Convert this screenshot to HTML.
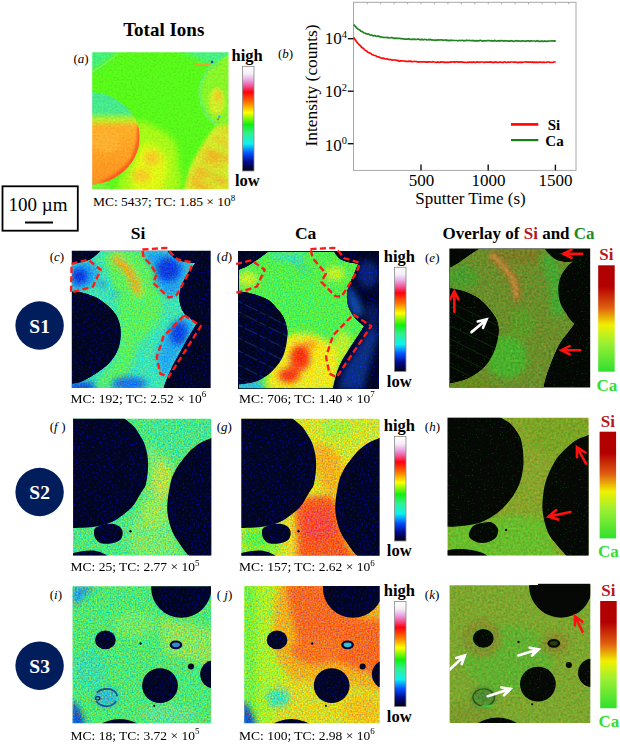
<!DOCTYPE html><html><head><meta charset="utf-8"><style>html,body{margin:0;padding:0;background:#fff}svg{display:block}text{font-family:"Liberation Serif", serif}</style></head><body>
<svg width="620" height="745" viewBox="0 0 620 745">
<defs>
<linearGradient id="jet" x1="0" y1="0" x2="0" y2="1">
<stop offset="0" stop-color="#ffffff"/><stop offset="0.07" stop-color="#f6eef6"/>
<stop offset="0.13" stop-color="#e8a6e4"/><stop offset="0.19" stop-color="#f0508c"/>
<stop offset="0.245" stop-color="#ff0010"/><stop offset="0.34" stop-color="#ff7000"/>
<stop offset="0.44" stop-color="#ffff00"/><stop offset="0.555" stop-color="#10f010"/>
<stop offset="0.64" stop-color="#30f090"/><stop offset="0.74" stop-color="#10f0f0"/>
<stop offset="0.83" stop-color="#0050ff"/><stop offset="0.91" stop-color="#000c90"/>
<stop offset="1" stop-color="#000010"/></linearGradient>
<linearGradient id="ov" x1="0" y1="0" x2="0" y2="1">
<stop offset="0" stop-color="#b00000"/><stop offset="0.2" stop-color="#b40000"/>
<stop offset="0.4" stop-color="#e06010"/><stop offset="0.56" stop-color="#f0f000"/>
<stop offset="0.72" stop-color="#a0f030"/><stop offset="1" stop-color="#30e030"/></linearGradient>
<filter id="nz" x="0" y="0" width="1" height="1" color-interpolation-filters="sRGB">
<feTurbulence type="fractalNoise" baseFrequency="0.15" numOctaves="1" seed="7" result="t0"/>
<feColorMatrix in="t0" type="matrix" values="1 0 0 0 0  0 0.6 0 0 0.2  -1 0 0 0 1  0 0 0 0 1" result="t"/>
<feComposite in="SourceGraphic" in2="t" operator="arithmetic" k1="0" k2="1" k3="1.1" k4="-0.55" result="r"/>
<feComposite in="r" in2="SourceAlpha" operator="in"/>
</filter>
<filter id="nzL" x="0" y="0" width="1" height="1" color-interpolation-filters="sRGB">
<feTurbulence type="fractalNoise" baseFrequency="0.15" numOctaves="1" seed="9" result="t0"/>
<feColorMatrix in="t0" type="matrix" values="1 0 0 0 0  0 0.6 0 0 0.2  -1 0 0 0 1  0 0 0 0 1" result="t"/>
<feComposite in="SourceGraphic" in2="t" operator="arithmetic" k1="0" k2="1" k3="0.7" k4="-0.35" result="r"/>
<feComposite in="r" in2="SourceAlpha" operator="in"/>
</filter>
<filter id="nzD" x="0" y="0" width="1" height="1" color-interpolation-filters="sRGB">
<feTurbulence type="fractalNoise" baseFrequency="0.11" numOctaves="2" seed="11" result="t"/>
<feColorMatrix in="t" type="matrix" values="0 0 0 0 0  0 0.5 0 0 0  0 0 1 0 0  0 0 0 0 1" result="t2"/>
<feComponentTransfer in="t2" result="t3"><feFuncG type="linear" slope="3" intercept="-1.1"/><feFuncB type="linear" slope="2.6" intercept="-1.38"/></feComponentTransfer>
<feComposite in="SourceGraphic" in2="t3" operator="arithmetic" k1="0" k2="1" k3="0.6" k4="0" result="r"/>
<feComposite in="r" in2="SourceAlpha" operator="in"/>
</filter>
<filter id="nz2" x="0" y="0" width="1" height="1" color-interpolation-filters="sRGB">
<feTurbulence type="fractalNoise" baseFrequency="0.1" numOctaves="2" seed="5" result="t"/>
<feColorMatrix in="t" type="matrix" values="1 0 0 0 0  0 0.7 0 0 0.15  0 0 0.2 0 0.4  0 0 0 0 1" result="t2"/>
<feComposite in="SourceGraphic" in2="t2" operator="arithmetic" k1="0" k2="1" k3="0.4" k4="-0.2" result="r"/>
<feComposite in="r" in2="SourceAlpha" operator="in"/>
</filter>
<filter id="nzG" x="0" y="0" width="1" height="1" color-interpolation-filters="sRGB">
<feTurbulence type="fractalNoise" baseFrequency="0.12" numOctaves="2" seed="13" result="t"/>
<feColorMatrix in="t" type="matrix" values="0 0 0 0 0  0 1 0 0 0  0 0 0 0 0  0 0 0 0 1" result="t2"/>
<feComponentTransfer in="t2" result="t3"><feFuncG type="linear" slope="1.6" intercept="-1.0"/></feComponentTransfer>
<feComposite in="SourceGraphic" in2="t3" operator="arithmetic" k1="0" k2="1" k3="0.6" k4="0" result="r"/>
<feComposite in="r" in2="SourceAlpha" operator="in"/>
</filter>
<filter id="nzA" x="0" y="0" width="1" height="1" color-interpolation-filters="sRGB">
<feTurbulence type="fractalNoise" baseFrequency="0.12" numOctaves="1" seed="3" result="t0"/>
<feColorMatrix in="t0" type="matrix" values="1 0 0 0 0  0 1 0 0 0  0 0 1 0 0  0 0 0 0 1" result="t"/>
<feComposite in="SourceGraphic" in2="t" operator="arithmetic" k1="0.3" k2="0.85" k3="0" k4="0" result="r"/>
<feComposite in="r" in2="SourceAlpha" operator="in"/>
</filter>
<filter id="bl" color-interpolation-filters="sRGB"><feGaussianBlur stdDeviation="14"/></filter>
<filter id="bl2" color-interpolation-filters="sRGB"><feGaussianBlur stdDeviation="6"/></filter>
<marker id="ah" viewBox="0 0 10 10" refX="5" refY="5" markerWidth="4" markerHeight="4" orient="auto"><path d="M0,0 L10,5 L0,10" fill="none" stroke="context-stroke" stroke-width="2"/></marker>
</defs>
<text x="123.2" y="35.7" font-size="19" font-weight="bold" font-style="normal" fill="#000" text-anchor="start" >Total Ions</text>
<text x="73.5" y="63.4" font-size="13" font-weight="normal" font-style="normal" fill="#000" text-anchor="start" >(<tspan font-style="italic">a</tspan>)</text>
<svg x="88" y="48" width="144" height="144" viewBox="0 0 620 620" overflow="hidden"><defs><clipPath id="cpa"><rect x="18.1" y="18.1" width="586.8" height="589.9"/></clipPath></defs><g clip-path="url(#cpa)"><g>
<defs><clipPath id="aLC"><path d="M0.0,188.0 C0.0,188.0 5.5,187.0 18.0,189.0 C30.5,191.0 57.2,194.0 75.0,200.0 C92.8,206.0 110.0,215.8 125.0,225.0 C140.0,234.2 153.8,244.7 165.0,255.0 C176.2,265.3 184.5,276.5 192.0,287.0 C199.5,297.5 205.2,305.8 210.0,318.0 C214.8,330.2 219.3,344.7 221.0,360.0 C222.7,375.3 221.8,395.0 220.0,410.0 C218.2,425.0 215.0,436.7 210.0,450.0 C205.0,463.3 198.3,477.5 190.0,490.0 C181.7,502.5 171.7,514.2 160.0,525.0 C148.3,535.8 133.3,546.7 120.0,555.0 C106.7,563.3 91.7,570.2 80.0,575.0 C68.3,579.8 60.3,581.8 50.0,584.0 C39.7,586.2 26.3,587.3 18.0,588.0 C9.7,588.7 0.0,588.0 0.0,588.0 C0.0,588.0 0.0,188.0 0.0,188.0 Z"/></clipPath><clipPath id="aRC"><path d="M600.0,30.0 C600.0,30.0 573.3,49.7 560.0,58.0 C546.7,66.3 530.3,71.0 520.0,80.0 C509.7,89.0 504.3,100.3 498.0,112.0 C491.7,123.7 485.8,137.0 482.0,150.0 C478.2,163.0 475.3,176.7 475.0,190.0 C474.7,203.3 476.7,216.7 480.0,230.0 C483.3,243.3 489.2,257.5 495.0,270.0 C500.8,282.5 505.8,293.7 515.0,305.0 C524.2,316.3 550.0,338.0 550.0,338.0 C550.0,338.0 620.0,338.0 620.0,338.0 C620.0,338.0 620.0,30.0 620.0,30.0 C620.0,30.0 600.0,30.0 600.0,30.0 Z"/></clipPath>
<linearGradient id="aCirc" x1="0" y1="0" x2="0" y2="1">
<stop offset="0" stop-color="#44e894"/><stop offset="0.22" stop-color="#48ea88"/>
<stop offset="0.3" stop-color="#b8f028"/><stop offset="0.38" stop-color="#ffb028"/>
<stop offset="1" stop-color="#ff9020"/></linearGradient></defs>
<g filter="url(#nzA)">
<rect x="0" y="0" width="620" height="620" fill="#58fa1a"/>
<g filter="url(#bl)">
<path d="M0,0 L140,0 Q90,60 0,110 Z" fill="#44f07c"/>
<path d="M380,0 L620,0 L620,80 L520,70 Z" fill="#48f084"/>
<path d="M210.0,320.0 C223.3,303.3 263.3,326.7 290.0,340.0 C316.7,353.3 353.3,373.3 370.0,400.0 C386.7,426.7 388.3,463.3 390.0,500.0 C391.7,536.7 420.0,600.0 380.0,620.0 C340.0,640.0 190.0,630.0 150.0,620.0 C110.0,610.0 130.0,590.0 140.0,560.0 C150.0,530.0 198.3,480.0 210.0,440.0 C221.7,400.0 196.7,336.7 210.0,320.0 Z" fill="#a8fa18"/>
<path d="M230.0,420.0 C248.3,405.0 281.7,418.3 300.0,430.0 C318.3,441.7 335.0,465.0 340.0,490.0 C345.0,515.0 338.3,558.3 330.0,580.0 C321.7,601.7 311.7,614.2 290.0,620.0 C268.3,625.8 216.7,631.7 200.0,615.0 C183.3,598.3 185.0,552.5 190.0,520.0 C195.0,487.5 211.7,435.0 230.0,420.0 Z" fill="#e0f814"/>
<ellipse cx="275" cy="475" rx="35" ry="32" fill="#f8c828"/>
<ellipse cx="230" cy="550" rx="40" ry="28" fill="#f8c828"/>
<ellipse cx="560" cy="200" rx="40" ry="40" fill="#f0e020"/>
<path d="M0,580 L80,575 L90,620 L0,620 Z" fill="#80f040"/>
</g>
<path d="M0.0,188.0 C0.0,188.0 5.5,187.0 18.0,189.0 C30.5,191.0 57.2,194.0 75.0,200.0 C92.8,206.0 110.0,215.8 125.0,225.0 C140.0,234.2 153.8,244.7 165.0,255.0 C176.2,265.3 184.5,276.5 192.0,287.0 C199.5,297.5 205.2,305.8 210.0,318.0 C214.8,330.2 219.3,344.7 221.0,360.0 C222.7,375.3 221.8,395.0 220.0,410.0 C218.2,425.0 215.0,436.7 210.0,450.0 C205.0,463.3 198.3,477.5 190.0,490.0 C181.7,502.5 171.7,514.2 160.0,525.0 C148.3,535.8 133.3,546.7 120.0,555.0 C106.7,563.3 91.7,570.2 80.0,575.0 C68.3,579.8 60.3,581.8 50.0,584.0 C39.7,586.2 26.3,587.3 18.0,588.0 C9.7,588.7 0.0,588.0 0.0,588.0 C0.0,588.0 0.0,188.0 0.0,188.0 Z" fill="url(#aCirc)"/>
<g clip-path="url(#aLC)"><g filter="url(#bl2)">
<path d="M222,340 Q225,440 180,500 Q130,550 60,585" fill="none" stroke="#ff5020" stroke-width="18"/>
<ellipse cx="80" cy="400" rx="60" ry="50" fill="#ffb030"/>
</g></g>
<path d="M600.0,30.0 C600.0,30.0 573.3,49.7 560.0,58.0 C546.7,66.3 530.3,71.0 520.0,80.0 C509.7,89.0 504.3,100.3 498.0,112.0 C491.7,123.7 485.8,137.0 482.0,150.0 C478.2,163.0 475.3,176.7 475.0,190.0 C474.7,203.3 476.7,216.7 480.0,230.0 C483.3,243.3 489.2,257.5 495.0,270.0 C500.8,282.5 505.8,293.7 515.0,305.0 C524.2,316.3 550.0,338.0 550.0,338.0 C550.0,338.0 620.0,338.0 620.0,338.0 C620.0,338.0 620.0,30.0 620.0,30.0 C620.0,30.0 600.0,30.0 600.0,30.0 Z" fill="#88f62a"/>
<g clip-path="url(#aRC)"><g filter="url(#bl2)">
<path d="M560.0,58.0 C553.3,61.7 530.3,71.0 520.0,80.0 C509.7,89.0 504.3,100.3 498.0,112.0 C491.7,123.7 485.8,137.0 482.0,150.0 C478.2,163.0 475.3,176.7 475.0,190.0 C474.7,203.3 476.7,216.7 480.0,230.0 C483.3,243.3 489.2,257.5 495.0,270.0 C500.8,282.5 505.8,293.7 515.0,305.0 C524.2,316.3 544.2,332.5 550.0,338.0" fill="none" stroke="#48ec90" stroke-width="22" opacity="0.6"/>
<ellipse cx="555" cy="230" rx="35" ry="60" fill="#d0ec28"/>
<ellipse cx="560" cy="205" rx="12" ry="26" fill="#f0c828"/>
</g></g>
<g filter="url(#bl2)"><path d="M550.0,336.0 C550.0,336.0 530.0,361.0 520.0,375.0 C510.0,389.0 500.0,404.2 490.0,420.0 C480.0,435.8 469.2,452.5 460.0,470.0 C450.8,487.5 441.7,506.7 435.0,525.0 C428.3,543.3 423.7,564.2 420.0,580.0 C416.3,595.8 413.0,620.0 413.0,620.0 C413.0,620.0 620.0,620.0 620.0,620.0 C620.0,620.0 620.0,330.0 620.0,330.0 C620.0,330.0 550.0,336.0 550.0,336.0 Z" fill="#d4ec2a"/></g>
<g clip-path="url(#aLR)"><g filter="url(#bl)">
<path d="M500,440 L620,485" stroke="#ff9020" stroke-width="14"/>
<path d="M470,520 L600,585" stroke="#ff9828" stroke-width="18"/>
<path d="M440,565 L540,612" stroke="#ffa028" stroke-width="14"/>
<path d="M545,385 L620,425" stroke="#ffa828" stroke-width="12"/>
<path d="M480,472 L580,515" stroke="#ffa028" stroke-width="10"/>
<path d="M450,600 L520,620" stroke="#ff9020" stroke-width="8"/>
<path d="M580,345 L620,368" stroke="#ff9020" stroke-width="8"/>
<path d="M520,545 L620,560" stroke="#b8f030" stroke-width="8"/>
<path d="M560,430 L620,445" stroke="#b8f030" stroke-width="7"/>
<ellipse cx="470" cy="565" rx="28" ry="38" fill="#f8b028" opacity="0.5"/>
<ellipse cx="540" cy="470" rx="25" ry="20" fill="#ff9020" opacity="0.5"/>
</g></g>
</g>
<defs><clipPath id="aLR"><path d="M550.0,336.0 C550.0,336.0 530.0,361.0 520.0,375.0 C510.0,389.0 500.0,404.2 490.0,420.0 C480.0,435.8 469.2,452.5 460.0,470.0 C450.8,487.5 441.7,506.7 435.0,525.0 C428.3,543.3 423.7,564.2 420.0,580.0 C416.3,595.8 413.0,620.0 413.0,620.0 C413.0,620.0 620.0,620.0 620.0,620.0 C620.0,620.0 620.0,330.0 620.0,330.0 C620.0,330.0 550.0,336.0 550.0,336.0 Z"/></clipPath></defs>
<path d="M18,102 Q70,75 132,21" fill="none" stroke="#b8f040" stroke-width="4" opacity="0.8"/>
<path d="M452,64 Q490,82 530,67" fill="none" stroke="#f0a030" stroke-width="7"/>
<circle cx="534" cy="60" r="5.5" fill="#1838b0"/>
<circle cx="565" cy="297" r="6" fill="#30c0c0"/>
<circle cx="560" cy="307" r="4" fill="#f04040"/>
</g></g></svg>
<text x="231.5" y="60.7" font-size="16.5" font-weight="bold" font-style="normal" fill="#000" text-anchor="start" >high</text>
<rect x="242.4" y="66.5" width="11.6" height="104.5" fill="url(#jet)" stroke="#8a8a8a" stroke-width="0.8"/>
<text x="235" y="185.5" font-size="16.5" font-weight="bold" font-style="normal" fill="#000" text-anchor="start" >low</text>
<text x="92.9" y="206.2" font-size="13.5">MC: 5437; TC: 1.85 × 10<tspan font-size="9" dy="-5.4">8</tspan></text>
<rect x="2.5" y="186.3" width="75.3" height="44.4" fill="none" stroke="#000" stroke-width="1.8"/>
<text x="8.6" y="211.3" font-size="19" font-weight="normal" font-style="normal" fill="#000" text-anchor="start" >100 µm</text>
<rect x="25" y="221.5" width="28" height="2" fill="#000"/>
<text x="278" y="58" font-size="13" font-weight="normal" font-style="normal" fill="#000" text-anchor="start" >(<tspan font-style="italic">b</tspan>)</text>
<rect x="353.5" y="2.3" width="222.5" height="168.1" fill="none" stroke="#a8a8a8" stroke-width="1"/>
<line x1="347.8" y1="38.7" x2="353.5" y2="38.7" stroke="#111" stroke-width="1.4"/>
<line x1="347.8" y1="91.2" x2="353.5" y2="91.2" stroke="#111" stroke-width="1.4"/>
<line x1="347.8" y1="143.7" x2="353.5" y2="143.7" stroke="#111" stroke-width="1.4"/>
<line x1="421" y1="164.6" x2="421" y2="170.4" stroke="#111" stroke-width="1.4"/>
<line x1="488.2" y1="164.6" x2="488.2" y2="170.4" stroke="#111" stroke-width="1.4"/>
<line x1="555.4" y1="164.6" x2="555.4" y2="170.4" stroke="#111" stroke-width="1.4"/>
<line x1="367.2" y1="2.3" x2="367.2" y2="4.3" stroke="#999" stroke-width="0.8"/>
<line x1="380.7" y1="2.3" x2="380.7" y2="4.3" stroke="#999" stroke-width="0.8"/>
<line x1="394.1" y1="2.3" x2="394.1" y2="4.3" stroke="#999" stroke-width="0.8"/>
<line x1="407.6" y1="2.3" x2="407.6" y2="4.3" stroke="#999" stroke-width="0.8"/>
<line x1="421.0" y1="2.3" x2="421.0" y2="4.3" stroke="#999" stroke-width="0.8"/>
<line x1="434.4" y1="2.3" x2="434.4" y2="4.3" stroke="#999" stroke-width="0.8"/>
<line x1="447.9" y1="2.3" x2="447.9" y2="4.3" stroke="#999" stroke-width="0.8"/>
<line x1="461.3" y1="2.3" x2="461.3" y2="4.3" stroke="#999" stroke-width="0.8"/>
<line x1="474.8" y1="2.3" x2="474.8" y2="4.3" stroke="#999" stroke-width="0.8"/>
<line x1="488.2" y1="2.3" x2="488.2" y2="4.3" stroke="#999" stroke-width="0.8"/>
<line x1="501.6" y1="2.3" x2="501.6" y2="4.3" stroke="#999" stroke-width="0.8"/>
<line x1="515.1" y1="2.3" x2="515.1" y2="4.3" stroke="#999" stroke-width="0.8"/>
<line x1="528.5" y1="2.3" x2="528.5" y2="4.3" stroke="#999" stroke-width="0.8"/>
<line x1="542.0" y1="2.3" x2="542.0" y2="4.3" stroke="#999" stroke-width="0.8"/>
<line x1="555.4" y1="2.3" x2="555.4" y2="4.3" stroke="#999" stroke-width="0.8"/>
<line x1="568.8" y1="2.3" x2="568.8" y2="4.3" stroke="#999" stroke-width="0.8"/>
<text x="324.8" y="44.4" font-size="17" font-weight="normal" font-style="normal" fill="#000" text-anchor="start" >10<tspan font-size="10.5" dy="-6.3">4</tspan></text>
<text x="324.8" y="97" font-size="17" font-weight="normal" font-style="normal" fill="#000" text-anchor="start" >10<tspan font-size="10.5" dy="-6.3">2</tspan></text>
<text x="324.8" y="150.5" font-size="17" font-weight="normal" font-style="normal" fill="#000" text-anchor="start" >10<tspan font-size="10.5" dy="-6.3">0</tspan></text>
<text x="421.5" y="185.8" font-size="17" font-weight="normal" font-style="normal" fill="#000" text-anchor="middle" >500</text>
<text x="488.5" y="185.8" font-size="17" font-weight="normal" font-style="normal" fill="#000" text-anchor="middle" >1000</text>
<text x="555.6" y="185.8" font-size="17" font-weight="normal" font-style="normal" fill="#000" text-anchor="middle" >1500</text>
<text x="470.5" y="203.5" font-size="17" font-weight="normal" font-style="normal" fill="#000" text-anchor="middle" >Sputter Time (s)</text>
<text x="0" y="0" font-size="17.4" font-weight="normal" font-style="normal" fill="#000" text-anchor="middle" transform="translate(317.2,85.5) rotate(-90)">Intensity (counts)</text>
<polyline points="353.8,24.5 354.8,26.0 355.8,26.9 356.8,28.1 357.8,29.0 358.8,29.4 359.8,30.0 360.8,31.3 361.8,31.4 362.8,32.0 363.8,33.0 364.8,33.0 365.8,33.7 366.8,33.8 367.8,34.2 368.8,34.2 369.8,34.8 370.8,35.2 371.8,35.2 372.8,35.6 373.8,35.8 374.8,35.5 375.8,36.2 376.8,36.3 377.8,36.2 378.8,36.2 379.8,36.9 380.8,36.8 381.8,37.1 382.8,37.3 383.8,37.3 384.8,37.5 385.8,37.3 386.8,37.7 387.8,37.5 388.8,37.9 389.8,38.0 390.8,37.5 391.8,37.6 392.8,37.8 393.8,38.4 394.8,38.1 395.8,38.3 396.8,38.1 397.8,38.3 398.8,38.3 399.8,38.4 400.8,38.6 401.8,38.7 402.8,38.9 403.8,38.8 404.8,39.1 405.8,39.1 406.8,39.2 407.8,39.1 408.8,38.7 409.8,39.3 410.8,39.4 411.8,39.4 412.8,39.2 413.8,39.4 414.8,39.1 415.8,39.5 416.8,39.4 417.8,39.2 418.8,39.1 419.8,39.7 420.8,39.8 421.8,39.3 422.8,39.8 423.8,39.6 424.8,39.4 425.8,39.5 426.8,39.9 427.8,40.0 428.8,39.5 429.8,39.9 430.8,39.5 431.8,40.0 432.8,39.8 433.8,40.2 434.8,40.3 435.8,40.0 436.8,40.4 437.8,39.9 438.8,39.8 439.8,40.2 440.8,39.8 441.8,39.9 442.8,40.1 443.8,40.3 444.8,40.0 445.8,39.9 446.8,40.5 447.8,40.1 448.8,40.6 449.8,40.6 450.8,40.2 451.8,40.3 452.8,40.4 453.8,40.5 454.8,40.5 455.8,40.5 456.8,40.5 457.8,40.8 458.8,40.5 459.8,40.4 460.8,40.7 461.8,40.3 462.8,40.4 463.8,40.9 464.8,40.6 465.8,40.6 466.8,40.2 467.8,40.5 468.8,40.7 469.8,40.3 470.8,40.7 471.8,40.7 472.8,40.4 473.8,40.8 474.8,40.7 475.8,40.8 476.8,40.6 477.8,40.9 478.8,40.9 479.8,40.4 480.8,40.4 481.8,40.9 482.8,41.1 483.8,40.6 484.8,40.8 485.8,40.9 486.8,40.7 487.8,40.7 488.8,40.7 489.8,40.7 490.8,40.9 491.8,40.7 492.8,40.8 493.8,41.1 494.8,40.5 495.8,40.9 496.8,41.1 497.8,40.8 498.8,40.7 499.8,41.1 500.8,40.7 501.8,40.7 502.8,40.9 503.8,41.1 504.8,40.7 505.8,40.8 506.8,40.8 507.8,41.2 508.8,40.9 509.8,41.2 510.8,40.7 511.8,40.9 512.8,41.1 513.8,41.3 514.8,41.0 515.8,40.8 516.8,40.7 517.8,41.0 518.8,40.8 519.8,41.2 520.8,41.3 521.8,40.8 522.8,40.9 523.8,41.2 524.8,41.1 525.8,41.3 526.8,40.9 527.8,40.8 528.8,40.9 529.8,41.3 530.8,40.9 531.8,40.9 532.8,41.0 533.8,41.0 534.8,41.0 535.8,41.4 536.8,40.8 537.8,40.7 538.8,41.4 539.8,41.3 540.8,41.4 541.8,41.0 542.8,41.4 543.8,41.4 544.8,40.9 545.8,41.3 546.8,41.3 547.8,41.2 548.8,41.1 549.8,41.0 550.8,41.0 551.8,40.9 552.8,40.8 553.8,41.2 554.8,41.0 555.8,41.3" fill="none" stroke="#238423" stroke-width="1.7"/>
<polyline points="353.8,37.3 354.8,39.4 355.8,40.6 356.8,42.1 357.8,43.3 358.8,44.5 359.8,45.3 360.8,46.0 361.8,47.5 362.8,48.0 363.8,48.9 364.8,49.9 365.8,50.6 366.8,51.2 367.8,52.3 368.8,52.6 369.8,53.0 370.8,53.5 371.8,54.5 372.8,54.7 373.8,55.3 374.8,55.5 375.8,55.8 376.8,56.4 377.8,56.9 378.8,56.8 379.8,57.6 380.8,57.9 381.8,58.1 382.8,58.4 383.8,58.1 384.8,58.7 385.8,59.1 386.8,58.8 387.8,59.1 388.8,59.3 389.8,59.6 390.8,59.7 391.8,59.9 392.8,60.2 393.8,59.8 394.8,60.0 395.8,60.2 396.8,60.3 397.8,60.3 398.8,61.1 399.8,61.1 400.8,60.6 401.8,61.0 402.8,60.9 403.8,61.0 404.8,61.1 405.8,61.3 406.8,61.4 407.8,61.3 408.8,61.2 409.8,61.3 410.8,61.2 411.8,61.6 412.8,61.7 413.8,61.5 414.8,61.4 415.8,61.5 416.8,61.6 417.8,61.8 418.8,62.0 419.8,61.7 420.8,62.0 421.8,61.9 422.8,61.8 423.8,61.8 424.8,61.9 425.8,62.1 426.8,61.9 427.8,62.1 428.8,61.9 429.8,61.8 430.8,62.0 431.8,62.1 432.8,61.7 433.8,62.0 434.8,62.0 435.8,62.3 436.8,62.4 437.8,62.0 438.8,62.4 439.8,62.3 440.8,61.9 441.8,62.1 442.8,61.8 443.8,62.3 444.8,62.2 445.8,62.4 446.8,62.3 447.8,62.2 448.8,62.3 449.8,62.2 450.8,61.9 451.8,62.2 452.8,61.8 453.8,61.9 454.8,62.3 455.8,61.8 456.8,61.9 457.8,61.9 458.8,62.4 459.8,61.9 460.8,61.8 461.8,62.4 462.8,61.9 463.8,62.4 464.8,62.3 465.8,62.4 466.8,62.5 467.8,62.2 468.8,62.4 469.8,61.9 470.8,62.4 471.8,62.2 472.8,62.3 473.8,61.9 474.8,62.4 475.8,62.5 476.8,61.9 477.8,62.1 478.8,62.2 479.8,62.4 480.8,62.0 481.8,62.0 482.8,62.0 483.8,62.3 484.8,62.4 485.8,62.1 486.8,62.1 487.8,62.1 488.8,62.1 489.8,62.1 490.8,61.9 491.8,62.2 492.8,62.5 493.8,62.1 494.8,62.4 495.8,62.0 496.8,62.3 497.8,62.4 498.8,62.3 499.8,62.2 500.8,62.2 501.8,62.3 502.8,62.5 503.8,62.0 504.8,61.9 505.8,62.4 506.8,62.5 507.8,62.2 508.8,62.2 509.8,62.4 510.8,62.0 511.8,62.0 512.8,62.0 513.8,62.3 514.8,62.1 515.8,62.0 516.8,62.3 517.8,62.5 518.8,62.1 519.8,62.3 520.8,62.1 521.8,62.4 522.8,62.3 523.8,62.0 524.8,62.0 525.8,61.9 526.8,62.2 527.8,62.1 528.8,62.0 529.8,62.1 530.8,62.1 531.8,62.4 532.8,62.0 533.8,62.5 534.8,62.2 535.8,62.3 536.8,62.2 537.8,62.4 538.8,62.4 539.8,62.2 540.8,62.2 541.8,62.4 542.8,62.4 543.8,62.1 544.8,62.4 545.8,62.5 546.8,62.2 547.8,62.0 548.8,62.0 549.8,62.4 550.8,62.3 551.8,62.5 552.8,62.4 553.8,62.0 554.8,62.0 555.8,62.0" fill="none" stroke="#ff0a0a" stroke-width="1.7"/>
<line x1="511" y1="124.4" x2="538.3" y2="124.4" stroke="#ff0000" stroke-width="2.6"/>
<line x1="511" y1="140.1" x2="538.3" y2="140.1" stroke="#197c19" stroke-width="2.2"/>
<text x="554" y="129.9" font-size="15" font-weight="bold" font-style="normal" fill="#000" text-anchor="middle" >Si</text>
<text x="554.5" y="145.5" font-size="15" font-weight="bold" font-style="normal" fill="#000" text-anchor="middle" >Ca</text>
<text x="138" y="239" font-size="17.5" font-weight="bold" font-style="normal" fill="#000" text-anchor="middle" >Si</text>
<text x="305.6" y="239.4" font-size="17.5" font-weight="bold" font-style="normal" fill="#000" text-anchor="middle" >Ca</text>
<text x="442.5" y="239" font-size="17" font-weight="bold">Overlay of <tspan fill="#b4161b">Si</tspan> and <tspan fill="#1f8a1f">Ca</tspan></text>
<circle cx="39.6" cy="325.5" r="24.2" fill="#021d5c"/>
<text x="39.6" y="332.5" font-size="19.5" font-weight="bold" font-style="normal" fill="#fff" text-anchor="middle" >S1</text>
<circle cx="39.6" cy="492" r="24.2" fill="#021d5c"/>
<text x="39.6" y="499" font-size="19.5" font-weight="bold" font-style="normal" fill="#fff" text-anchor="middle" >S2</text>
<circle cx="39.6" cy="665.7" r="24.2" fill="#021d5c"/>
<text x="39.6" y="672.7" font-size="19.5" font-weight="bold" font-style="normal" fill="#fff" text-anchor="middle" >S3</text>
<text x="49.7" y="260.5" font-size="13" font-weight="normal" font-style="normal" fill="#000" text-anchor="start" >(<tspan font-style="italic">c</tspan>)</text>
<text x="216.8" y="260.7" font-size="13" font-weight="normal" font-style="normal" fill="#000" text-anchor="start" >(<tspan font-style="italic">d</tspan>)</text>
<text x="425" y="262" font-size="13" font-weight="normal" font-style="normal" fill="#000" text-anchor="start" >(<tspan font-style="italic">e</tspan>)</text>
<text x="49.7" y="431.3" font-size="13" font-weight="normal" font-style="normal" fill="#000" text-anchor="start" >(<tspan font-style="italic">f</tspan><tspan dx="3.6">)</tspan></text>
<text x="216.7" y="431.3" font-size="13" font-weight="normal" font-style="normal" fill="#000" text-anchor="start" >(<tspan font-style="italic">g</tspan>)</text>
<text x="424.8" y="431.3" font-size="13" font-weight="normal" font-style="normal" fill="#000" text-anchor="start" >(<tspan font-style="italic">h</tspan>)</text>
<text x="49.7" y="599.2" font-size="13" font-weight="normal" font-style="normal" fill="#000" text-anchor="start" >(<tspan font-style="italic">i</tspan>)</text>
<text x="216.7" y="599.2" font-size="13" font-weight="normal" font-style="normal" fill="#000" text-anchor="start" >( <tspan font-style="italic">j</tspan>)</text>
<text x="424.8" y="599.2" font-size="13" font-weight="normal" font-style="normal" fill="#000" text-anchor="start" >(<tspan font-style="italic">k</tspan>)</text>
<text x="383.8" y="261.6" font-size="16.5" font-weight="bold" font-style="normal" fill="#000" text-anchor="start" >high</text>
<rect x="394.4" y="267.3" width="11.6" height="104.19999999999999" fill="url(#jet)" stroke="#8a8a8a" stroke-width="0.8"/>
<text x="386.8" y="386.6" font-size="16.5" font-weight="bold" font-style="normal" fill="#000" text-anchor="start" >low</text>
<text x="383.8" y="431" font-size="16.5" font-weight="bold" font-style="normal" fill="#000" text-anchor="start" >high</text>
<rect x="394.4" y="436.4" width="11.6" height="104.60000000000002" fill="url(#jet)" stroke="#8a8a8a" stroke-width="0.8"/>
<text x="386.8" y="556" font-size="16.5" font-weight="bold" font-style="normal" fill="#000" text-anchor="start" >low</text>
<text x="383.8" y="595.7" font-size="16.5" font-weight="bold" font-style="normal" fill="#000" text-anchor="start" >high</text>
<rect x="394.4" y="601.6" width="11.6" height="105.0" fill="url(#jet)" stroke="#8a8a8a" stroke-width="0.8"/>
<text x="386.8" y="721.8" font-size="16.5" font-weight="bold" font-style="normal" fill="#000" text-anchor="start" >low</text>
<text x="606.4000000000001" y="260" font-size="17" font-weight="bold" font-style="normal" fill="#b4161b" text-anchor="middle" >Si</text>
<rect x="598.2" y="265.3" width="16.5" height="106.39999999999998" fill="url(#ov)"/>
<text x="606.9000000000001" y="390.5" font-size="17" font-weight="bold" font-style="normal" fill="#33dd33" text-anchor="middle" >Ca</text>
<text x="607.8000000000001" y="426.5" font-size="17" font-weight="bold" font-style="normal" fill="#b4161b" text-anchor="middle" >Si</text>
<rect x="599.6" y="431.7" width="16.5" height="106.69999999999999" fill="url(#ov)"/>
<text x="608.3000000000001" y="556.5" font-size="17" font-weight="bold" font-style="normal" fill="#33dd33" text-anchor="middle" >Ca</text>
<text x="608.4000000000001" y="595.5" font-size="17" font-weight="bold" font-style="normal" fill="#b4161b" text-anchor="middle" >Si</text>
<rect x="600.2" y="601" width="16.5" height="107.20000000000005" fill="url(#ov)"/>
<text x="608.9000000000001" y="726.5" font-size="17" font-weight="bold" font-style="normal" fill="#33dd33" text-anchor="middle" >Ca</text>
<svg x="68" y="246" width="146" height="146" viewBox="0 0 620 620" overflow="hidden"><defs><clipPath id="cpc"><rect x="16.1" y="20.0" width="589.8" height="583.1"/></clipPath></defs><g clip-path="url(#cpc)"><g>
<defs><clipPath id="cbr"><path d="M137.0,20.0 C137.0,20.0 422.0,20.0 422.0,20.0 C422.0,20.0 445.0,48.2 458.0,56.0 C471.0,63.8 486.2,64.2 500.0,67.0 C513.8,69.8 541.0,73.0 541.0,73.0 C541.0,73.0 518.7,101.3 509.0,117.0 C499.3,132.7 489.0,151.0 483.0,167.0 C477.0,183.0 473.8,198.7 473.0,213.0 C472.2,227.3 474.7,241.2 478.0,253.0 C481.3,264.8 486.3,275.2 493.0,284.0 C499.7,292.8 509.3,298.2 518.0,306.0 C526.7,313.8 545.0,331.0 545.0,331.0 C545.0,331.0 531.0,354.2 519.0,375.0 C507.0,395.8 485.7,433.2 473.0,456.0 C460.3,478.8 452.7,491.7 443.0,512.0 C433.3,532.3 421.3,561.7 415.0,578.0 C408.7,594.3 405.0,610.0 405.0,610.0 C405.0,610.0 16.0,610.0 16.0,610.0 C16.0,610.0 16.0,585.0 16.0,585.0 C16.0,585.0 36.8,583.5 51.0,578.0 C65.2,572.5 84.2,562.2 101.0,552.0 C117.8,541.8 137.5,528.8 152.0,517.0 C166.5,505.2 177.8,494.5 188.0,481.0 C198.2,467.5 207.2,451.2 213.0,436.0 C218.8,420.8 221.5,405.2 223.0,390.0 C224.5,374.8 224.2,359.2 222.0,345.0 C219.8,330.8 215.3,316.7 210.0,305.0 C204.7,293.3 198.0,284.5 190.0,275.0 C182.0,265.5 174.2,257.5 162.0,248.0 C149.8,238.5 133.8,226.3 117.0,218.0 C100.2,209.7 77.8,202.0 61.0,198.0 C44.2,194.0 16.0,194.0 16.0,194.0 C16.0,194.0 16.0,76.0 16.0,76.0 C16.0,76.0 70.8,67.3 91.0,58.0 C111.2,48.7 137.0,20.0 137.0,20.0 Z"/></clipPath></defs>
<rect width="620" height="620" fill="#010520" filter="url(#nzD)"/>
<g clip-path="url(#cbr)"><g filter="url(#nzL)">
<path d="M137.0,20.0 C137.0,20.0 422.0,20.0 422.0,20.0 C422.0,20.0 445.0,48.2 458.0,56.0 C471.0,63.8 486.2,64.2 500.0,67.0 C513.8,69.8 541.0,73.0 541.0,73.0 C541.0,73.0 518.7,101.3 509.0,117.0 C499.3,132.7 489.0,151.0 483.0,167.0 C477.0,183.0 473.8,198.7 473.0,213.0 C472.2,227.3 474.7,241.2 478.0,253.0 C481.3,264.8 486.3,275.2 493.0,284.0 C499.7,292.8 509.3,298.2 518.0,306.0 C526.7,313.8 545.0,331.0 545.0,331.0 C545.0,331.0 531.0,354.2 519.0,375.0 C507.0,395.8 485.7,433.2 473.0,456.0 C460.3,478.8 452.7,491.7 443.0,512.0 C433.3,532.3 421.3,561.7 415.0,578.0 C408.7,594.3 405.0,610.0 405.0,610.0 C405.0,610.0 16.0,610.0 16.0,610.0 C16.0,610.0 16.0,585.0 16.0,585.0 C16.0,585.0 36.8,583.5 51.0,578.0 C65.2,572.5 84.2,562.2 101.0,552.0 C117.8,541.8 137.5,528.8 152.0,517.0 C166.5,505.2 177.8,494.5 188.0,481.0 C198.2,467.5 207.2,451.2 213.0,436.0 C218.8,420.8 221.5,405.2 223.0,390.0 C224.5,374.8 224.2,359.2 222.0,345.0 C219.8,330.8 215.3,316.7 210.0,305.0 C204.7,293.3 198.0,284.5 190.0,275.0 C182.0,265.5 174.2,257.5 162.0,248.0 C149.8,238.5 133.8,226.3 117.0,218.0 C100.2,209.7 77.8,202.0 61.0,198.0 C44.2,194.0 16.0,194.0 16.0,194.0 C16.0,194.0 16.0,76.0 16.0,76.0 C16.0,76.0 70.8,67.3 91.0,58.0 C111.2,48.7 137.0,20.0 137.0,20.0 Z" fill="#3de4b4"/>
<g filter="url(#bl)">
<path d="M160.0,30.0 C186.7,18.3 293.3,10.0 330.0,30.0 C366.7,50.0 368.3,111.7 380.0,150.0 C391.7,188.3 400.0,230.0 400.0,260.0 C400.0,290.0 396.7,303.3 380.0,330.0 C363.3,356.7 323.3,381.7 300.0,420.0 C276.7,458.3 263.3,530.0 240.0,560.0 C216.7,590.0 180.0,595.0 160.0,600.0 C140.0,605.0 116.7,603.3 120.0,590.0 C123.3,576.7 164.2,545.0 180.0,520.0 C195.8,495.0 207.5,466.7 215.0,440.0 C222.5,413.3 225.8,386.7 225.0,360.0 C224.2,333.3 214.2,306.7 210.0,280.0 C205.8,253.3 206.7,230.0 200.0,200.0 C193.3,170.0 176.7,128.3 170.0,100.0 C163.3,71.7 133.3,41.7 160.0,30.0 Z" fill="#5af060"/>
<path d="M190,42 Q245,80 275,130 Q298,175 302,215" fill="none" stroke="#b8ec38" stroke-width="46"/>
<path d="M195,50 Q245,85 272,130 Q292,170 296,200" fill="none" stroke="#ff8a20" stroke-width="22"/>
<path d="M16.0,80.0 L86.0,62.0 L135.0,101.0 L104.0,168.0 L66.0,182.0 L16.0,194.0 Z" fill="#20a0f0"/>
<ellipse cx="48" cy="128" rx="36" ry="34" fill="#0a34e0"/>
<path d="M322.0,20.0 L417.0,20.0 L438.0,30.0 L458.0,51.0 L519.0,68.0 L498.0,142.0 L458.0,213.0 L427.0,218.0 L362.0,157.0 L377.0,119.0 L344.0,71.0 L321.0,48.0 Z" fill="#20a0f0"/>
<ellipse cx="425" cy="100" rx="50" ry="50" fill="#0a3ae0"/>
<path d="M493.0,294.0 L545.0,331.0 L519.0,375.0 L473.0,456.0 L443.0,512.0 L427.0,557.0 L392.0,542.0 L377.0,471.0 L405.0,385.0 Z" fill="#22a8f0"/>
<ellipse cx="470" cy="370" rx="38" ry="50" fill="#0c44e0"/>
<ellipse cx="145" cy="162" rx="18" ry="10" fill="#3070e0"/>
<circle cx="203" cy="205" r="10" fill="#3070e0"/>
<ellipse cx="260" cy="585" rx="75" ry="30" fill="#1c70e8"/>
<rect x="0" y="578" width="110" height="40" fill="#1448d8"/>
</g></g></g>
</g></g><path d="M15.0,76.0 L86.0,58.0 L139.0,101.0 L106.0,172.0 L71.0,182.0 L13.0,198.0 Z" fill="none" stroke="#ff1a1a" stroke-width="10" stroke-dasharray="26,14" stroke-linejoin="round"/>
<path d="M316.0,15.0 L417.0,8.0 L438.0,30.0 L463.0,56.0 L519.0,68.0 L524.0,91.0 L498.0,142.0 L458.0,213.0 L427.0,218.0 L362.0,157.0 L377.0,119.0 L344.0,71.0 L321.0,48.0 Z" fill="none" stroke="#ff1a1a" stroke-width="10" stroke-dasharray="26,14" stroke-linejoin="round"/>
<path d="M493.0,294.0 L564.0,340.0 L427.0,557.0 L392.0,542.0 L377.0,471.0 L405.0,385.0 Z" fill="none" stroke="#ff1a1a" stroke-width="10" stroke-dasharray="26,14" stroke-linejoin="round"/></svg>
<svg x="236" y="246" width="146" height="146" viewBox="0 0 620 620" overflow="hidden"><defs><clipPath id="cpd"><rect x="12.3" y="23.8" width="592.0" height="580.5"/></clipPath></defs><g clip-path="url(#cpd)"><g>
<defs><clipPath id="dbr"><path d="M137.0,23.0 C137.0,23.0 417.0,23.0 417.0,23.0 C417.0,23.0 429.5,43.8 438.0,51.0 C446.5,58.2 454.5,61.8 468.0,66.0 C481.5,70.2 519.0,76.0 519.0,76.0 C519.0,76.0 504.8,111.0 498.0,127.0 C491.2,143.0 482.5,157.7 478.0,172.0 C473.5,186.3 471.3,199.5 471.0,213.0 C470.7,226.5 472.3,240.3 476.0,253.0 C479.7,265.7 486.5,278.7 493.0,289.0 C499.5,299.3 506.5,306.5 515.0,315.0 C523.5,323.5 544.0,340.0 544.0,340.0 C544.0,340.0 530.0,363.2 519.0,380.0 C508.0,396.8 489.8,422.3 478.0,441.0 C466.2,459.7 456.5,475.2 448.0,492.0 C439.5,508.8 433.3,522.3 427.0,542.0 C420.7,561.7 410.0,610.0 410.0,610.0 C410.0,610.0 11.0,610.0 11.0,610.0 C11.0,610.0 11.0,588.0 11.0,588.0 C11.0,588.0 56.7,584.0 76.0,578.0 C95.3,572.0 111.8,562.2 127.0,552.0 C142.2,541.8 155.2,530.5 167.0,517.0 C178.8,503.5 190.3,487.0 198.0,471.0 C205.7,455.0 209.7,438.7 213.0,421.0 C216.3,403.3 218.8,382.0 218.0,365.0 C217.2,348.0 212.2,331.7 208.0,319.0 C203.8,306.3 199.0,298.2 193.0,289.0 C187.0,279.8 180.5,273.3 172.0,264.0 C163.5,254.7 153.8,241.5 142.0,233.0 C130.2,224.5 116.2,218.8 101.0,213.0 C85.8,207.2 66.0,201.0 51.0,198.0 C36.0,195.0 11.0,195.0 11.0,195.0 C11.0,195.0 11.0,101.0 11.0,101.0 C11.0,101.0 33.5,92.7 46.0,86.0 C58.5,79.3 70.8,71.5 86.0,61.0 C101.2,50.5 137.0,23.0 137.0,23.0 Z"/></clipPath></defs>
<g filter="url(#nzD)">
<rect width="620" height="620" fill="#010520"/>
<g stroke="#2a70e0" stroke-width="4" opacity="0.4" stroke-dasharray="30,12,60,10"><line x1="0" y1="230" x2="260" y2="360" /><line x1="0" y1="275" x2="260" y2="405" /><line x1="0" y1="330" x2="260" y2="460" /><line x1="0" y1="385" x2="260" y2="515" /><line x1="0" y1="440" x2="260" y2="570" /><line x1="0" y1="500" x2="260" y2="630" /><line x1="0" y1="555" x2="260" y2="685" /></g>
<g filter="url(#bl)"><path d="M470,160 Q520,200 545,290 L500,300 Q465,250 470,160 Z" fill="#1870e0" opacity="0.65"/>
<path d="M565,345 Q520,430 460,520 L430,610 L540,610 Q570,480 610,370 Z" fill="#1450c8" opacity="0.55"/>
<ellipse cx="560" cy="120" rx="45" ry="60" fill="#1440b8" opacity="0.5"/>
<ellipse cx="580" cy="300" rx="30" ry="60" fill="#1238a8" opacity="0.4"/></g>
</g>
<g clip-path="url(#dbr)"><g filter="url(#nzL)">
<path d="M137.0,23.0 C137.0,23.0 417.0,23.0 417.0,23.0 C417.0,23.0 429.5,43.8 438.0,51.0 C446.5,58.2 454.5,61.8 468.0,66.0 C481.5,70.2 519.0,76.0 519.0,76.0 C519.0,76.0 504.8,111.0 498.0,127.0 C491.2,143.0 482.5,157.7 478.0,172.0 C473.5,186.3 471.3,199.5 471.0,213.0 C470.7,226.5 472.3,240.3 476.0,253.0 C479.7,265.7 486.5,278.7 493.0,289.0 C499.5,299.3 506.5,306.5 515.0,315.0 C523.5,323.5 544.0,340.0 544.0,340.0 C544.0,340.0 530.0,363.2 519.0,380.0 C508.0,396.8 489.8,422.3 478.0,441.0 C466.2,459.7 456.5,475.2 448.0,492.0 C439.5,508.8 433.3,522.3 427.0,542.0 C420.7,561.7 410.0,610.0 410.0,610.0 C410.0,610.0 11.0,610.0 11.0,610.0 C11.0,610.0 11.0,588.0 11.0,588.0 C11.0,588.0 56.7,584.0 76.0,578.0 C95.3,572.0 111.8,562.2 127.0,552.0 C142.2,541.8 155.2,530.5 167.0,517.0 C178.8,503.5 190.3,487.0 198.0,471.0 C205.7,455.0 209.7,438.7 213.0,421.0 C216.3,403.3 218.8,382.0 218.0,365.0 C217.2,348.0 212.2,331.7 208.0,319.0 C203.8,306.3 199.0,298.2 193.0,289.0 C187.0,279.8 180.5,273.3 172.0,264.0 C163.5,254.7 153.8,241.5 142.0,233.0 C130.2,224.5 116.2,218.8 101.0,213.0 C85.8,207.2 66.0,201.0 51.0,198.0 C36.0,195.0 11.0,195.0 11.0,195.0 C11.0,195.0 11.0,101.0 11.0,101.0 C11.0,101.0 33.5,92.7 46.0,86.0 C58.5,79.3 70.8,71.5 86.0,61.0 C101.2,50.5 137.0,23.0 137.0,23.0 Z" fill="#50f050"/>
<g filter="url(#bl)">
<ellipse cx="50" cy="140" rx="45" ry="32" fill="#c8f030"/>
<path d="M190,40 Q250,60 300,110" fill="none" stroke="#30b8f0" stroke-width="10"/>
<path d="M150,30 L300,30 L280,60 L160,60 Z" fill="#40e0b0"/>
<ellipse cx="420" cy="118" rx="45" ry="32" fill="#c0f030"/>
<path d="M200.0,390.0 C221.7,376.7 266.7,366.7 300.0,370.0 C333.3,373.3 376.7,391.7 400.0,410.0 C423.3,428.3 435.8,455.0 440.0,480.0 C444.2,505.0 431.7,538.3 425.0,560.0 C418.3,581.7 445.8,601.7 400.0,610.0 C354.2,618.3 193.3,621.7 150.0,610.0 C106.7,598.3 136.7,566.7 140.0,540.0 C143.3,513.3 160.0,475.0 170.0,450.0 C180.0,425.0 178.3,403.3 200.0,390.0 Z" fill="#f0e820"/>
<ellipse cx="272" cy="475" rx="42" ry="55" fill="#ff3018"/>
<ellipse cx="225" cy="550" rx="45" ry="30" fill="#ff3018"/>
<ellipse cx="250" cy="520" rx="30" ry="25" fill="#ff5018"/>
<ellipse cx="315" cy="420" rx="30" ry="20" fill="#ffa020"/>
<ellipse cx="455" cy="420" rx="40" ry="60" fill="#b8f030"/>
<rect x="0" y="575" width="110" height="40" fill="#30b0e8"/>
</g></g></g>
</g></g><path d="M0.0,76.0 L66.0,61.0 L122.0,101.0 L89.0,172.0 L35.0,190.0 L0.0,198.0" fill="none" stroke="#ff1a1a" stroke-width="10" stroke-dasharray="26,14" stroke-linejoin="round"/>
<path d="M316.0,13.0 L417.0,8.0 L438.0,25.0 L458.0,51.0 L524.0,71.0 L519.0,96.0 L488.0,152.0 L448.0,215.0 L422.0,213.0 L362.0,152.0 L382.0,117.0 L351.0,81.0 L326.0,51.0 Z" fill="none" stroke="#ff1a1a" stroke-width="10" stroke-dasharray="26,14" stroke-linejoin="round"/>
<path d="M498.0,291.0 L574.0,340.0 L427.0,557.0 L397.0,542.0 L382.0,471.0 L412.0,380.0 Z" fill="none" stroke="#ff1a1a" stroke-width="10" stroke-dasharray="26,14" stroke-linejoin="round"/></svg>
<svg x="446" y="245" width="148" height="148" viewBox="0 0 620 620" overflow="hidden"><defs><clipPath id="cpe"><rect x="14.2" y="14.7" width="589.8" height="582.7"/></clipPath></defs><g clip-path="url(#cpe)"><g>
<defs><clipPath id="ebr"><path d="M140.0,15.0 C140.0,15.0 415.0,15.0 415.0,15.0 C415.0,15.0 422.5,27.5 430.0,35.0 C437.5,42.5 448.3,54.2 460.0,60.0 C471.7,65.8 487.5,68.8 500.0,70.0 C512.5,71.2 535.0,67.0 535.0,67.0 C535.0,67.0 518.3,80.3 510.0,90.0 C501.7,99.7 491.3,112.5 485.0,125.0 C478.7,137.5 474.2,150.8 472.0,165.0 C469.8,179.2 470.3,195.8 472.0,210.0 C473.7,224.2 477.3,238.3 482.0,250.0 C486.7,261.7 493.7,270.0 500.0,280.0 C506.3,290.0 513.3,301.7 520.0,310.0 C526.7,318.3 540.0,330.0 540.0,330.0 C540.0,330.0 520.0,356.7 510.0,370.0 C500.0,383.3 489.2,395.0 480.0,410.0 C470.8,425.0 462.5,443.3 455.0,460.0 C447.5,476.7 441.2,493.3 435.0,510.0 C428.8,526.7 422.5,544.2 418.0,560.0 C413.5,575.8 408.0,605.0 408.0,605.0 C408.0,605.0 14.0,605.0 14.0,605.0 C14.0,605.0 14.0,580.0 14.0,580.0 C14.0,580.0 55.7,572.5 75.0,565.0 C94.3,557.5 114.2,545.8 130.0,535.0 C145.8,524.2 158.3,514.2 170.0,500.0 C181.7,485.8 192.5,466.7 200.0,450.0 C207.5,433.3 211.7,416.7 215.0,400.0 C218.3,383.3 220.8,365.0 220.0,350.0 C219.2,335.0 215.0,321.7 210.0,310.0 C205.0,298.3 197.5,290.0 190.0,280.0 C182.5,270.0 175.0,260.0 165.0,250.0 C155.0,240.0 142.5,228.3 130.0,220.0 C117.5,211.7 103.3,205.5 90.0,200.0 C76.7,194.5 62.7,190.0 50.0,187.0 C37.3,184.0 14.0,182.0 14.0,182.0 C14.0,182.0 14.0,95.0 14.0,95.0 C14.0,95.0 35.7,84.2 50.0,75.0 C64.3,65.8 85.0,50.0 100.0,40.0 C115.0,30.0 140.0,15.0 140.0,15.0 Z"/></clipPath></defs>
<rect width="620" height="620" fill="#040704" filter="url(#nzG)"/>
<g stroke="#1a4a14" stroke-width="3" opacity="0.7"><line x1="0" y1="230" x2="260" y2="360" /><line x1="0" y1="275" x2="260" y2="405" /><line x1="0" y1="330" x2="260" y2="460" /><line x1="0" y1="385" x2="260" y2="515" /><line x1="0" y1="440" x2="260" y2="570" /><line x1="0" y1="500" x2="260" y2="630" /><line x1="0" y1="555" x2="260" y2="685" /></g>
<g clip-path="url(#ebr)"><g filter="url(#nz2)">
<path d="M140.0,15.0 C140.0,15.0 415.0,15.0 415.0,15.0 C415.0,15.0 422.5,27.5 430.0,35.0 C437.5,42.5 448.3,54.2 460.0,60.0 C471.7,65.8 487.5,68.8 500.0,70.0 C512.5,71.2 535.0,67.0 535.0,67.0 C535.0,67.0 518.3,80.3 510.0,90.0 C501.7,99.7 491.3,112.5 485.0,125.0 C478.7,137.5 474.2,150.8 472.0,165.0 C469.8,179.2 470.3,195.8 472.0,210.0 C473.7,224.2 477.3,238.3 482.0,250.0 C486.7,261.7 493.7,270.0 500.0,280.0 C506.3,290.0 513.3,301.7 520.0,310.0 C526.7,318.3 540.0,330.0 540.0,330.0 C540.0,330.0 520.0,356.7 510.0,370.0 C500.0,383.3 489.2,395.0 480.0,410.0 C470.8,425.0 462.5,443.3 455.0,460.0 C447.5,476.7 441.2,493.3 435.0,510.0 C428.8,526.7 422.5,544.2 418.0,560.0 C413.5,575.8 408.0,605.0 408.0,605.0 C408.0,605.0 14.0,605.0 14.0,605.0 C14.0,605.0 14.0,580.0 14.0,580.0 C14.0,580.0 55.7,572.5 75.0,565.0 C94.3,557.5 114.2,545.8 130.0,535.0 C145.8,524.2 158.3,514.2 170.0,500.0 C181.7,485.8 192.5,466.7 200.0,450.0 C207.5,433.3 211.7,416.7 215.0,400.0 C218.3,383.3 220.8,365.0 220.0,350.0 C219.2,335.0 215.0,321.7 210.0,310.0 C205.0,298.3 197.5,290.0 190.0,280.0 C182.5,270.0 175.0,260.0 165.0,250.0 C155.0,240.0 142.5,228.3 130.0,220.0 C117.5,211.7 103.3,205.5 90.0,200.0 C76.7,194.5 62.7,190.0 50.0,187.0 C37.3,184.0 14.0,182.0 14.0,182.0 C14.0,182.0 14.0,95.0 14.0,95.0 C14.0,95.0 35.7,84.2 50.0,75.0 C64.3,65.8 85.0,50.0 100.0,40.0 C115.0,30.0 140.0,15.0 140.0,15.0 Z" fill="#6a8e2a"/>
<g filter="url(#bl)">
<ellipse cx="60" cy="135" rx="75" ry="50" fill="#4c9c2c"/>
<ellipse cx="255" cy="470" rx="85" ry="90" fill="#4ab02c"/>
<ellipse cx="320" cy="330" rx="50" ry="60" fill="#5c9a28"/>
<path d="M420,40 Q470,150 470,300" fill="none" stroke="#48a630" stroke-width="60"/>
<path d="M185,35 Q245,85 280,140 Q300,190 298,235" fill="none" stroke="#907a2c" stroke-width="44"/>
<path d="M200,15 L400,15 L380,80 L250,70 Z" fill="#7a7c24"/>
<ellipse cx="100" cy="590" rx="90" ry="25" fill="#6a8a18"/>
</g>
<g filter="url(#bl2)"><path d="M188,38 Q245,88 278,140 Q296,185 294,225" fill="none" stroke="#c08838" stroke-width="18"/></g>
</g></g>
<path d="M570.0,37.0 L492.0,37.0 M525.9,19.8 L492.0,37.0 L525.9,54.2" fill="none" stroke="#ff1010" stroke-width="11" stroke-linecap="round" stroke-linejoin="miter"/>
<path d="M35.0,280.0 L35.0,194.0 M52.2,227.9 L35.0,194.0 L17.8,227.9" fill="none" stroke="#ff1010" stroke-width="11" stroke-linecap="round" stroke-linejoin="miter"/>
<path d="M562.0,441.0 L484.0,441.0 M517.9,423.8 L484.0,441.0 L517.9,458.2" fill="none" stroke="#ff1010" stroke-width="11" stroke-linecap="round" stroke-linejoin="miter"/>
<path d="M107.0,365.0 L170.0,312.0 M155.2,347.0 L170.0,312.0 L133.0,320.6" fill="none" stroke="#ffffff" stroke-width="11" stroke-linecap="round" stroke-linejoin="miter"/>
</g></g></svg>
<svg x="69" y="414" width="146" height="146" viewBox="0 0 620 620" overflow="hidden"><defs><clipPath id="cpf"><rect x="17.4" y="20.4" width="586.9" height="580.9"/></clipPath></defs><g clip-path="url(#cpf)"><g>
<g filter="url(#nz)"><rect width="620" height="620" fill="#4ce67c"/>
<g filter="url(#bl)">
<path d="M330,20 L620,20 L620,90 Q500,120 450,200 L360,160 Z" fill="#48e48c"/>
<path d="M330.0,140.0 C341.7,118.3 380.0,155.0 400.0,170.0 C420.0,185.0 443.3,205.0 450.0,230.0 C456.7,255.0 443.3,288.3 440.0,320.0 C436.7,351.7 430.0,386.7 430.0,420.0 C430.0,453.3 433.3,490.0 440.0,520.0 C446.7,550.0 493.3,585.0 470.0,600.0 C446.7,615.0 336.7,623.3 300.0,610.0 C263.3,596.7 250.0,555.0 250.0,520.0 C250.0,485.0 286.7,436.7 300.0,400.0 C313.3,363.3 325.0,343.3 330.0,300.0 C335.0,256.7 318.3,161.7 330.0,140.0 Z" fill="#78e870"/>
<ellipse cx="395" cy="280" rx="40" ry="80" fill="#b8e048"/>
<ellipse cx="360" cy="420" rx="45" ry="60" fill="#98e858"/>
<path d="M18,470 L250,440 L260,600 L18,600 Z" fill="#50e680"/>
</g></g>
<g filter="url(#nzD)"><path d="M0.0,0.0 C0.0,0.0 215.0,0.0 215.0,0.0 C215.0,0.0 228.2,12.5 238.0,21.0 C247.8,29.5 263.7,39.8 274.0,51.0 C284.3,62.2 292.3,75.7 300.0,88.0 C307.7,100.3 314.7,111.3 320.0,125.0 C325.3,138.7 329.3,155.8 332.0,170.0 C334.7,184.2 335.7,196.2 336.0,210.0 C336.3,223.8 335.7,238.0 334.0,253.0 C332.3,268.0 329.3,288.5 326.0,300.0 C322.7,311.5 318.5,314.3 314.0,322.0 C309.5,329.7 305.7,335.2 299.0,346.0 C292.3,356.8 284.2,374.3 274.0,387.0 C263.8,399.7 251.5,411.0 238.0,422.0 C224.5,433.0 209.8,444.5 193.0,453.0 C176.2,461.5 156.5,468.2 137.0,473.0 C117.5,477.8 95.8,480.2 76.0,482.0 C56.2,483.8 30.7,483.7 18.0,484.0 C5.3,484.3 0.0,484.0 0.0,484.0 C0.0,484.0 0.0,0.0 0.0,0.0 Z" fill="#010520"/><path d="M620.0,80.0 C620.0,80.0 615.2,94.0 605.0,101.0 C594.8,108.0 573.3,113.5 559.0,122.0 C544.7,130.5 531.7,140.2 519.0,152.0 C506.3,163.8 493.2,180.3 483.0,193.0 C472.8,205.7 465.5,215.3 458.0,228.0 C450.5,240.7 443.2,254.7 438.0,269.0 C432.8,283.3 430.0,299.3 427.0,314.0 C424.0,328.7 421.7,341.5 420.0,357.0 C418.3,372.5 416.2,390.2 417.0,407.0 C417.8,423.8 420.7,441.0 425.0,458.0 C429.3,475.0 435.8,493.8 443.0,509.0 C450.2,524.2 458.8,535.5 468.0,549.0 C477.2,562.5 490.3,580.7 498.0,590.0 C505.7,599.3 509.5,600.0 514.0,605.0 C518.5,610.0 525.0,620.0 525.0,620.0 C525.0,620.0 620.0,620.0 620.0,620.0 C620.0,620.0 620.0,80.0 620.0,80.0 Z" fill="#010520"/><path d="M106.0,498.0 C106.8,490.0 109.3,486.0 117.0,481.0 C124.7,476.0 139.3,470.2 152.0,468.0 C164.7,465.8 182.0,465.8 193.0,468.0 C204.0,470.2 212.2,475.0 218.0,481.0 C223.8,487.0 228.0,495.2 228.0,504.0 C228.0,512.8 225.7,526.5 218.0,534.0 C210.3,541.5 195.5,546.5 182.0,549.0 C168.5,551.5 148.7,552.3 137.0,549.0 C125.3,545.7 117.2,537.5 112.0,529.0 C106.8,520.5 105.2,506.0 106.0,498.0 Z" fill="#010520"/><circle cx="261" cy="498" r="5" fill="#010520"/><path d="M0.0,590.0 C0.0,590.0 7.8,591.3 18.0,590.0 C28.2,588.7 47.2,583.7 61.0,582.0 C74.8,580.3 87.5,578.7 101.0,580.0 C114.5,581.3 131.0,585.8 142.0,590.0 C153.0,594.2 160.7,600.0 167.0,605.0 C173.3,610.0 180.0,620.0 180.0,620.0 C180.0,620.0 0.0,620.0 0.0,620.0 C0.0,620.0 0.0,590.0 0.0,590.0 Z" fill="#010520"/></g>
</g></g></svg>
<svg x="237" y="414" width="146" height="146" viewBox="0 0 620 620" overflow="hidden"><defs><clipPath id="cpg"><rect x="18.3" y="20.0" width="587.3" height="581.8"/></clipPath></defs><g clip-path="url(#cpg)"><g>
<g filter="url(#nz)"><rect width="620" height="620" fill="#d8e028"/>
<g filter="url(#bl)">
<path d="M330,20 L620,20 L620,100 Q520,130 470,190 L380,150 Z" fill="#c8e430"/>
<ellipse cx="420" cy="60" rx="60" ry="35" fill="#a0f040"/>
<path d="M330.0,130.0 C343.3,115.0 400.0,140.0 420.0,160.0 C440.0,180.0 448.3,221.7 450.0,250.0 C451.7,278.3 441.7,316.7 430.0,330.0 C418.3,343.3 395.0,343.3 380.0,330.0 C365.0,316.7 348.3,283.3 340.0,250.0 C331.7,216.7 316.7,145.0 330.0,130.0 Z" fill="#f8b020"/>
<path d="M260.0,380.0 C275.0,355.0 305.0,353.3 330.0,350.0 C355.0,346.7 391.7,343.3 410.0,360.0 C428.3,376.7 430.0,416.7 440.0,450.0 C450.0,483.3 460.0,531.7 470.0,560.0 C480.0,588.3 535.0,610.0 500.0,620.0 C465.0,630.0 303.3,640.0 260.0,620.0 C216.7,600.0 240.0,540.0 240.0,500.0 C240.0,460.0 245.0,405.0 260.0,380.0 Z" fill="#ff5a24"/>
<ellipse cx="345" cy="470" rx="60" ry="70" fill="#ff4a40"/>
<path d="M18,470 L250,440 L260,600 L18,600 Z" fill="#e8d828"/>
<path d="M18,470 L180,455 L190,600 L18,600 Z" fill="#90f038"/>
<ellipse cx="90" cy="530" rx="65" ry="40" fill="#60f048"/>
</g></g>
<g filter="url(#nzD)"><path d="M0.0,0.0 C0.0,0.0 215.0,0.0 215.0,0.0 C215.0,0.0 228.2,12.5 238.0,21.0 C247.8,29.5 263.7,39.8 274.0,51.0 C284.3,62.2 292.3,75.7 300.0,88.0 C307.7,100.3 314.7,111.3 320.0,125.0 C325.3,138.7 329.3,155.8 332.0,170.0 C334.7,184.2 335.7,196.2 336.0,210.0 C336.3,223.8 335.7,238.0 334.0,253.0 C332.3,268.0 329.3,288.5 326.0,300.0 C322.7,311.5 318.5,314.3 314.0,322.0 C309.5,329.7 305.7,335.2 299.0,346.0 C292.3,356.8 284.2,374.3 274.0,387.0 C263.8,399.7 251.5,411.0 238.0,422.0 C224.5,433.0 209.8,444.5 193.0,453.0 C176.2,461.5 156.5,468.2 137.0,473.0 C117.5,477.8 95.8,480.2 76.0,482.0 C56.2,483.8 30.7,483.7 18.0,484.0 C5.3,484.3 0.0,484.0 0.0,484.0 C0.0,484.0 0.0,0.0 0.0,0.0 Z" fill="#010520"/><path d="M620.0,80.0 C620.0,80.0 615.2,94.0 605.0,101.0 C594.8,108.0 573.3,113.5 559.0,122.0 C544.7,130.5 531.7,140.2 519.0,152.0 C506.3,163.8 493.2,180.3 483.0,193.0 C472.8,205.7 465.5,215.3 458.0,228.0 C450.5,240.7 443.2,254.7 438.0,269.0 C432.8,283.3 430.0,299.3 427.0,314.0 C424.0,328.7 421.7,341.5 420.0,357.0 C418.3,372.5 416.2,390.2 417.0,407.0 C417.8,423.8 420.7,441.0 425.0,458.0 C429.3,475.0 435.8,493.8 443.0,509.0 C450.2,524.2 458.8,535.5 468.0,549.0 C477.2,562.5 490.3,580.7 498.0,590.0 C505.7,599.3 509.5,600.0 514.0,605.0 C518.5,610.0 525.0,620.0 525.0,620.0 C525.0,620.0 620.0,620.0 620.0,620.0 C620.0,620.0 620.0,80.0 620.0,80.0 Z" fill="#010520"/><path d="M106.0,498.0 C106.8,490.0 109.3,486.0 117.0,481.0 C124.7,476.0 139.3,470.2 152.0,468.0 C164.7,465.8 182.0,465.8 193.0,468.0 C204.0,470.2 212.2,475.0 218.0,481.0 C223.8,487.0 228.0,495.2 228.0,504.0 C228.0,512.8 225.7,526.5 218.0,534.0 C210.3,541.5 195.5,546.5 182.0,549.0 C168.5,551.5 148.7,552.3 137.0,549.0 C125.3,545.7 117.2,537.5 112.0,529.0 C106.8,520.5 105.2,506.0 106.0,498.0 Z" fill="#010520"/><circle cx="261" cy="498" r="5" fill="#010520"/><path d="M0.0,590.0 C0.0,590.0 7.8,591.3 18.0,590.0 C28.2,588.7 47.2,583.7 61.0,582.0 C74.8,580.3 87.5,578.7 101.0,580.0 C114.5,581.3 131.0,585.8 142.0,590.0 C153.0,594.2 160.7,600.0 167.0,605.0 C173.3,610.0 180.0,620.0 180.0,620.0 C180.0,620.0 0.0,620.0 0.0,620.0 C0.0,620.0 0.0,590.0 0.0,590.0 Z" fill="#010520"/></g>
</g></g></svg>
<svg x="444" y="413" width="148" height="148" viewBox="0 0 620 620" overflow="hidden"><defs><clipPath id="cph"><rect x="15.1" y="20.1" width="590.7" height="576.4"/></clipPath></defs><g clip-path="url(#cph)"><g>
<g filter="url(#nz2)"><rect width="620" height="620" fill="#84a42a"/>
<g filter="url(#bl)">
<path d="M330,20 L620,20 L620,90 Q520,130 470,190 L380,150 Z" fill="#7aa424"/>
<path d="M15,470 L300,430 L420,440 L480,620 L15,620 Z" fill="#68bc2c"/>
<ellipse cx="380" cy="250" rx="50" ry="100" fill="#88a42c"/>
</g></g>
<g filter="url(#nzG)">
<path d="M0.0,0.0 C0.0,0.0 225.0,0.0 225.0,0.0 C225.0,0.0 231.7,13.0 240.0,20.0 C248.3,27.0 265.0,33.7 275.0,42.0 C285.0,50.3 292.5,59.5 300.0,70.0 C307.5,80.5 315.0,91.7 320.0,105.0 C325.0,118.3 327.8,134.2 330.0,150.0 C332.2,165.8 333.0,185.0 333.0,200.0 C333.0,215.0 332.2,225.8 330.0,240.0 C327.8,254.2 324.2,271.7 320.0,285.0 C315.8,298.3 311.7,307.5 305.0,320.0 C298.3,332.5 290.0,346.7 280.0,360.0 C270.0,373.3 258.3,387.5 245.0,400.0 C231.7,412.5 215.8,425.0 200.0,435.0 C184.2,445.0 166.7,454.2 150.0,460.0 C133.3,465.8 116.7,467.5 100.0,470.0 C83.3,472.5 63.8,474.0 50.0,475.0 C36.2,476.0 25.3,475.8 17.0,476.0 C8.7,476.2 0.0,476.0 0.0,476.0 C0.0,476.0 0.0,0.0 0.0,0.0 Z" fill="#050805"/><path d="M620.0,80.0 C620.0,80.0 615.0,87.0 605.0,92.0 C595.0,97.0 574.2,102.0 560.0,110.0 C545.8,118.0 532.5,129.2 520.0,140.0 C507.5,150.8 495.0,163.3 485.0,175.0 C475.0,186.7 467.5,197.5 460.0,210.0 C452.5,222.5 445.8,236.7 440.0,250.0 C434.2,263.3 428.8,276.7 425.0,290.0 C421.2,303.3 419.0,316.7 417.0,330.0 C415.0,343.3 413.7,356.7 413.0,370.0 C412.3,383.3 411.5,395.0 413.0,410.0 C414.5,425.0 417.5,443.3 422.0,460.0 C426.5,476.7 432.0,495.0 440.0,510.0 C448.0,525.0 458.3,535.7 470.0,550.0 C481.7,564.3 501.7,584.3 510.0,596.0 C518.3,607.7 520.0,620.0 520.0,620.0 C520.0,620.0 620.0,620.0 620.0,620.0 C620.0,620.0 620.0,80.0 620.0,80.0 Z" fill="#050805"/><path d="M105.0,505.0 C106.7,496.7 112.5,482.2 120.0,475.0 C127.5,467.8 137.5,465.0 150.0,462.0 C162.5,459.0 183.3,454.8 195.0,457.0 C206.7,459.2 214.7,468.7 220.0,475.0 C225.3,481.3 227.8,486.7 227.0,495.0 C226.2,503.3 222.8,517.2 215.0,525.0 C207.2,532.8 192.5,539.2 180.0,542.0 C167.5,544.8 151.7,544.8 140.0,542.0 C128.3,539.2 115.8,531.2 110.0,525.0 C104.2,518.8 103.3,513.3 105.0,505.0 Z" fill="#050805"/>
<path d="M0.0,576.0 C0.0,576.0 8.7,576.0 17.0,575.0 C25.3,574.0 36.2,570.5 50.0,570.0 C63.8,569.5 83.3,570.0 100.0,572.0 C116.7,574.0 136.7,577.8 150.0,582.0 C163.3,586.2 173.3,590.7 180.0,597.0 C186.7,603.3 190.0,620.0 190.0,620.0 C190.0,620.0 0.0,620.0 0.0,620.0 C0.0,620.0 0.0,576.0 0.0,576.0 Z" fill="#050805"/><circle cx="260" cy="490" r="5" fill="#050805"/></g>
<path d="M595.0,212.0 L557.0,143.0 M592.4,165.6 L557.0,143.0 L557.1,185.0" fill="none" stroke="#ff1010" stroke-width="11" stroke-linecap="round" stroke-linejoin="miter"/>
<path d="M530.0,415.0 L438.0,434.0 M470.0,406.8 L438.0,434.0 L478.2,446.3" fill="none" stroke="#ff1010" stroke-width="11" stroke-linecap="round" stroke-linejoin="miter"/>
</g></g></svg>
<svg x="69" y="582" width="146" height="146" viewBox="0 0 620 620" overflow="hidden"><defs><clipPath id="cpi"><rect x="14.9" y="17.8" width="588.2" height="581.8"/></clipPath></defs><g clip-path="url(#cpi)"><g>
<g filter="url(#nz)"><rect width="620" height="620" fill="#50e674"/>
<g filter="url(#bl)">
<path d="M380,150 Q500,170 620,200 L620,360 Q500,330 400,300 Z" fill="#88e460"/>
<ellipse cx="280" cy="180" rx="90" ry="60" fill="#70e868"/>
<ellipse cx="90" cy="370" rx="70" ry="80" fill="#40dca0"/>
<path d="M15,20 L110,20 L15,110 Z" fill="#3098d8"/>
<path d="M10,505 Q50,520 70,620 L10,620 Z" fill="#1848c8"/>
<ellipse cx="158" cy="490" rx="52" ry="40" fill="#38b8c8"/>
<ellipse cx="420" cy="560" rx="120" ry="40" fill="#60e090"/>
</g></g>
<path d="M118,470 Q140,450 175,455 Q200,462 205,485 M200,505 Q190,525 160,528 Q130,526 115,505" fill="none" stroke="#0a2a90" stroke-width="7" opacity="0.75"/>
<ellipse cx="122" cy="494" rx="9" ry="7" fill="none" stroke="#061a70" stroke-width="5"/>
<g filter="url(#nzD)"><circle cx="477" cy="24" r="128" fill="#010520"/><ellipse cx="154.6" cy="246" rx="44" ry="40" fill="#010520"/><ellipse cx="454" cy="267" rx="27" ry="19" fill="#010520"/><circle cx="518" cy="359" r="13" fill="#010520"/><circle cx="304" cy="261" r="5" fill="#010520"/><circle cx="618" cy="392" r="61" fill="#010520"/><ellipse cx="386.5" cy="440" rx="76" ry="74" fill="#010520"/><circle cx="362" cy="526" r="4.5" fill="#010520"/><ellipse cx="215" cy="687" rx="130" ry="105" fill="#010520"/></g><ellipse cx="454" cy="267" rx="17" ry="10" fill="#3088d0"/>
</g></g></svg>
<svg x="239" y="582" width="146" height="146" viewBox="0 0 620 620" overflow="hidden"><defs><clipPath id="cpj"><rect x="22.1" y="17.4" width="575.4" height="582.6"/></clipPath></defs><g clip-path="url(#cpj)"><g>
<g filter="url(#nz)"><rect width="620" height="620" fill="#f0b020"/>
<g filter="url(#bl)">
<path d="M0,0 L170,0 Q130,150 150,300 Q200,400 270,460 L300,620 L0,620 Z" fill="#a8f030"/>
<path d="M0,0 L70,0 L80,620 L0,620 Z" fill="#78f040"/>
<path d="M200,0 L360,0 Q380,160 600,160 L620,160 L620,400 Q500,370 420,340 Q300,320 250,250 Q220,150 200,0 Z" fill="#ff6a24"/>
<ellipse cx="330" cy="290" rx="110" ry="60" fill="#ff7424"/>
<path d="M150,430 Q300,390 620,470 L620,620 L150,620 Z" fill="#d8d828"/>
<ellipse cx="520" cy="540" rx="80" ry="60" fill="#f0c020"/>
<ellipse cx="165" cy="492" rx="50" ry="40" fill="#40e0b0"/>
<path d="M10,505 Q50,520 75,620 L10,620 Z" fill="#1848c8"/>
</g></g>
<g transform="translate(7,0)"><g filter="url(#nzD)"><circle cx="477" cy="24" r="128" fill="#010520"/><ellipse cx="154.6" cy="246" rx="44" ry="40" fill="#010520"/><ellipse cx="454" cy="267" rx="27" ry="19" fill="#010520"/><circle cx="518" cy="359" r="13" fill="#010520"/><circle cx="304" cy="261" r="5" fill="#010520"/><circle cx="618" cy="392" r="61" fill="#010520"/><ellipse cx="386.5" cy="440" rx="76" ry="74" fill="#010520"/><circle cx="362" cy="526" r="4.5" fill="#010520"/><ellipse cx="215" cy="687" rx="130" ry="105" fill="#010520"/></g><ellipse cx="454" cy="267" rx="17" ry="10" fill="#30c0d8"/></g>
</g></g></svg>
<svg x="446" y="580" width="148" height="148" viewBox="0 0 620 620" overflow="hidden"><defs><clipPath id="cpk"><rect x="15.1" y="22.2" width="589.4" height="576.9"/></clipPath></defs><g clip-path="url(#cpk)"><g>
<g filter="url(#nz2)"><rect width="620" height="620" fill="#7ca62e"/>
<g filter="url(#bl)">
<ellipse cx="260" cy="330" rx="190" ry="140" fill="#62b030"/>
<ellipse cx="150" cy="245" rx="80" ry="75" fill="#8a8a2c"/>
<ellipse cx="150" cy="245" rx="55" ry="50" fill="#70a02c"/>
<ellipse cx="455" cy="268" rx="55" ry="45" fill="#8a8a2c"/>
<ellipse cx="100" cy="570" rx="110" ry="60" fill="#7a9a2c"/>
<ellipse cx="158" cy="490" rx="50" ry="40" fill="#4a8a30"/>
</g></g>
<ellipse cx="158" cy="492" rx="45" ry="36" fill="none" stroke="#1a3a10" stroke-width="6" opacity="0.7"/>
<ellipse cx="175" cy="528" rx="28" ry="6" fill="#40d040" opacity="0.8"/>
<g transform="translate(3.77,2.09) scale(0.9863)"><g filter="url(#nzG)"><circle cx="477" cy="24" r="128" fill="#050805"/><ellipse cx="154.6" cy="246" rx="44" ry="40" fill="#050805"/><ellipse cx="454" cy="267" rx="27" ry="19" fill="#050805"/><circle cx="518" cy="359" r="13" fill="#050805"/><circle cx="304" cy="261" r="5" fill="#050805"/><circle cx="618" cy="392" r="61" fill="#050805"/><ellipse cx="386.5" cy="440" rx="76" ry="74" fill="#050805"/><circle cx="362" cy="526" r="4.5" fill="#050805"/><ellipse cx="215" cy="687" rx="130" ry="105" fill="#050805"/></g><ellipse cx="454" cy="267" rx="17" ry="10" fill="#2a3a10"/></g>
<circle cx="482" cy="28" r="130" fill="#050805"/>
<path d="M572.0,216.0 L540.0,152.0 M570.5,174.6 L540.0,152.0 L539.8,190.0" fill="none" stroke="#ff1010" stroke-width="11" stroke-linecap="round" stroke-linejoin="miter"/>
<path d="M10.0,380.0 L79.0,316.0 M65.9,351.7 L79.0,316.0 L42.5,326.4" fill="none" stroke="#ffffff" stroke-width="11" stroke-linecap="round" stroke-linejoin="miter"/>
<path d="M303.0,316.0 L388.0,290.0 M360.6,316.4 L388.0,290.0 L350.6,283.5" fill="none" stroke="#ffffff" stroke-width="11" stroke-linecap="round" stroke-linejoin="miter"/>
<path d="M175.0,487.0 L270.0,456.0 M243.1,482.9 L270.0,456.0 L232.5,450.1" fill="none" stroke="#ffffff" stroke-width="11" stroke-linecap="round" stroke-linejoin="miter"/>
</g></g></svg>
<rect x="538" y="583.8" width="52.3" height="1.8" fill="#050805"/>
<text x="70.5" y="402.8" font-size="13.5">MC: 192; TC: 2.52 × 10<tspan font-size="9" dy="-5.4">6</tspan></text>
<text x="239.1" y="402.8" font-size="13.5">MC: 706; TC: 1.40 × 10<tspan font-size="9" dy="-5.4">7</tspan></text>
<text x="70.5" y="571.3" font-size="13.5">MC: 25; TC: 2.77 × 10<tspan font-size="9" dy="-5.4">5</tspan></text>
<text x="239.1" y="571.3" font-size="13.5">MC: 157; TC: 2.62 × 10<tspan font-size="9" dy="-5.4">6</tspan></text>
<text x="70.5" y="739.7" font-size="13.5">MC: 18; TC: 3.72 × 10<tspan font-size="9" dy="-5.4">5</tspan></text>
<text x="239.1" y="739.7" font-size="13.5">MC: 100; TC: 2.98 × 10<tspan font-size="9" dy="-5.4">6</tspan></text>
</svg></body></html>
